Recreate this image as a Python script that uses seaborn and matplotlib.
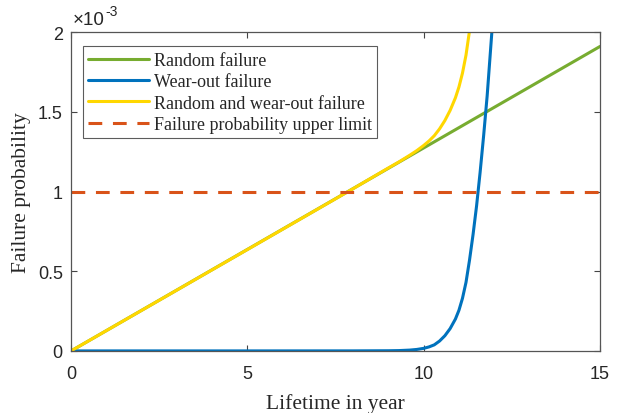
import matplotlib
matplotlib.use("Agg")
import matplotlib.pyplot as plt
import seaborn as sns
from matplotlib.ticker import FixedLocator

# ---- data ----
random_x = [0, 15]
random_y = [0, 1.91e-3]

wear_x = [0, 5, 8, 9.0, 9.3, 9.6, 9.8, 10.0, 10.15, 10.3, 10.45, 10.6, 10.75,
          10.9, 11.0, 11.1, 11.2, 11.3, 11.4, 11.5, 11.6, 11.7, 11.8, 11.9,
          11.96]
wear_y = [0, 0, 0.0002e-3, 0.001e-3, 0.002e-3, 0.005e-3, 0.009e-3, 0.016e-3,
          0.025e-3, 0.038e-3, 0.062e-3, 0.095e-3, 0.14e-3, 0.20e-3, 0.255e-3,
          0.33e-3, 0.43e-3, 0.57e-3, 0.73e-3, 0.91e-3, 1.12e-3, 1.35e-3,
          1.60e-3, 1.90e-3, 2.08e-3]

comb_x = [0, 5, 8, 9.0, 9.3, 9.6, 9.8, 10.0, 10.15, 10.3, 10.45, 10.6, 10.75,
          10.9, 11.0, 11.1, 11.2, 11.3, 11.36]
comb_y = [0, 0.636e-3, 1.018e-3, 1.148e-3, 1.186e-3, 1.227e-3, 1.256e-3,
          1.289e-3, 1.317e-3, 1.35e-3, 1.393e-3, 1.445e-3, 1.509e-3, 1.588e-3,
          1.656e-3, 1.743e-3, 1.856e-3, 2.009e-3, 2.106e-3]

limit_x = [0, 15]
limit_y = [1e-3, 1e-3]

labels = ["Random failure", "Wear-out failure", "Random and wear-out failure",
          "Failure probability upper limit"]
x_ticks = [0, 5, 10, 15]
y_ticks = [0, 0.5e-3, 1e-3, 1.5e-3, 2e-3]
y_tick_labels = ["0", "0.5", "1", "1.5", "2"]

sns.set_theme(style="white")
plt.rcParams["font.family"] = ["Liberation Serif", "DejaVu Serif"]

fig = plt.figure(figsize=(6.24, 4.14), dpi=100)
ax = fig.add_axes([0.114, 0.15, 0.8475, 0.77])

green = "#77AC30"
blue = "#0072BD"
yellow = "#FFD700"
orange = "#D95319"

sns.lineplot(x=random_x, y=random_y, ax=ax, color=green, lw=2.2, label=labels[0])
sns.lineplot(x=wear_x, y=wear_y, ax=ax, color=blue, lw=2.2, label=labels[1])
sns.lineplot(x=comb_x, y=comb_y, ax=ax, color=yellow, lw=2.2, label=labels[2])
sns.lineplot(x=limit_x, y=limit_y, ax=ax, color=orange, lw=2.2, label=labels[3],
             linestyle=(0, (4.5, 3.5)))

ax.set_xlim(0, 15)
ax.set_ylim(0, 2e-3)
ax.xaxis.set_major_locator(FixedLocator(x_ticks))
ax.yaxis.set_major_locator(FixedLocator(y_ticks))
ax.set_yticklabels(y_tick_labels)
ax.set_xticklabels([str(t) for t in x_ticks])
for lab in ax.get_xticklabels() + ax.get_yticklabels():
    lab.set_fontfamily("Liberation Sans")
    lab.set_fontsize(13)
    lab.set_color("#262626")

ax.tick_params(direction="in", length=4, width=0.8, color="#444444",
               top=True, right=True, bottom=True, left=True)
ax.tick_params(axis="x", pad=10)
ax.tick_params(axis="y", pad=6)
for s in ax.spines.values():
    s.set_color("#555555")
    s.set_linewidth(0.9)

ax.set_xlabel("Lifetime in year", fontsize=15.5, color="#262626", labelpad=8)
ax.set_ylabel("Failure probability", fontsize=15.5, color="#262626", labelpad=5)

# MATLAB-style exponent label
ax.annotate("\u00d710", xy=(0, 1), xycoords="axes fraction",
            xytext=(1, 3), textcoords="offset points", fontsize=13.5,
            family="Liberation Sans", color="#262626", ha="left", va="bottom")
ax.annotate("-3", xy=(0, 1), xycoords="axes fraction",
            xytext=(24.5, 10), textcoords="offset points", fontsize=10,
            family="Liberation Sans", color="#262626", ha="left", va="bottom")

leg = ax.legend(loc="upper left", bbox_to_anchor=(0.0215, 0.955), fontsize=13,
                frameon=True, fancybox=False, handlelength=3.4,
                handletextpad=0.25, borderpad=0.3, labelspacing=0.24,
                borderaxespad=0)
leg.get_frame().set_edgecolor("#333333")
leg.get_frame().set_linewidth(0.8)

fig.savefig("out.png", dpi=100)
